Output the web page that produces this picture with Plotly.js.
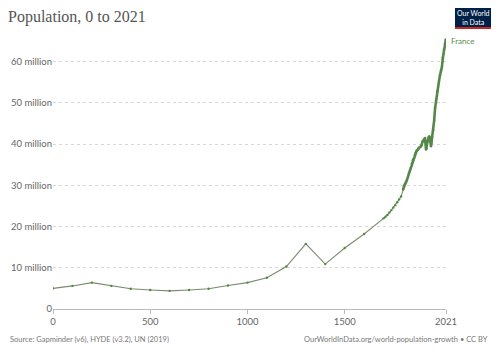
<!DOCTYPE html>
<html>
<head>
<meta charset="utf-8">
<script src="https://cdn.plot.ly/plotly-3.0.1.min.js"></script>
<style>html,body{margin:0;padding:0;background:#fff;}#chart{width:500px;height:353px;}</style>
</head>
<body>
<div id="chart"></div>
<script>
// Years and population (France)
const years = [0,100,200,300,400,500,600,700,800,900,1000,1100,1200,1300,1400,1500,1600,
  1700,1710,1720,1730,1740,1750,1760,1770,1780,1790,
  1800,1805,1810,1815,1820,1825,1830,1835,1840,1845,1850,1855,1860,1865,1870,1875,1880,1885,1890,1895,
  1900,1905,1910,1913,1915,1918,1920,1925,1930,1935,1940,1944,1946,1950,1955,1960,1965,1970,1975,1980,
  1985,1990,1995,2000,2005,2010,2015,2020,2021];
const population = [5.0,5.6,6.4,5.6,4.9,4.6,4.4,4.6,4.9,5.7,6.4,7.6,10.3,15.8,10.9,14.8,18.2,
  22.0,22.4,22.8,23.4,24.0,24.6,25.2,25.9,26.6,27.3,
  29.0,29.8,30.3,30.7,31.2,32.0,32.8,33.5,34.2,35.3,36.1,36.5,37.4,38.0,38.4,38.6,39.0,39.2,39.4,39.7,
  40.6,40.9,41.2,41.5,40.5,38.7,39.0,40.5,41.6,41.9,40.7,39.5,40.3,41.8,43.4,45.7,48.8,50.7,52.7,53.9,
  55.3,56.7,57.8,58.7,61.0,62.9,64.4,65.3,65.4].map(v => v * 1e6);
const xTicks = [0,500,1000,1500,2021];
const yTicks = [0,10e6,20e6,30e6,40e6,50e6,60e6];
const yTickText = ["0","10 million","20 million","30 million","40 million","50 million","60 million"];

const W = 500, H = 353;
const L = 53, R = 54, T = 37, B = 44;
const pw = W - L - R, ph = H - T - B;
const px = x => (x - L) / pw;
const py = y => (H - B - y) / ph;

// annual-resolution part (from 1800) is drawn denser in the original
const start = years.indexOf(1800);

const traces = [
  {x: years, y: population, type: 'scatter', mode: 'lines+markers',
   line: {color: '#7b8c6c', width: 1.1},
   marker: {color: '#4f8a3d', size: 2.4},
   hoverinfo: 'skip'},
  {x: years.slice(start), y: population.slice(start), type: 'scatter', mode: 'lines',
   line: {color: '#55874a', width: 2.6},
   hoverinfo: 'skip'}
];

const layout = {
  width: W, height: H,
  margin: {l: L, r: R, t: T, b: B},
  paper_bgcolor: '#fff', plot_bgcolor: '#fff',
  showlegend: false,
  font: {family: 'Lato, sans-serif', color: '#666'},
  title: {text: 'Population, 0 to 2021', x: 8 / W, xanchor: 'left', y: 1 - 16 / H, yanchor: 'middle',
          font: {family: 'Liberation Serif, serif', size: 16, color: '#555'}},
  xaxis: {range: [0, 2021], tickvals: xTicks, ticktext: xTicks.map(String),
          showline: true, linecolor: '#bbb', linewidth: 1, ticks: 'outside', ticklen: 4, tickcolor: '#bbb',
          showgrid: false, zeroline: false, tickfont: {size: 9.5, color: '#666'}, fixedrange: true},
  yaxis: {range: [0, 66e6], tickvals: yTicks, ticktext: yTickText,
          showgrid: true, gridcolor: '#d8d8d8', griddash: 'dot', gridwidth: 1,
          zeroline: false, showline: false, ticks: '', tickfont: {size: 9.5, color: '#666'}, fixedrange: true},
  shapes: [
    {type: 'rect', xref: 'paper', yref: 'paper', x0: px(455), x1: px(491), y0: py(29), y1: py(8),
     fillcolor: '#002147', line: {width: 0}},
    {type: 'rect', xref: 'paper', yref: 'paper', x0: px(455), x1: px(491), y0: py(29), y1: py(27),
     fillcolor: '#ce261e', line: {width: 0}}
  ],
  annotations: [
    {xref: 'paper', yref: 'paper', x: px(473), y: py(17.5), text: 'Our World<br>in Data', showarrow: false,
     xanchor: 'center', yanchor: 'middle', font: {family: 'Lato, sans-serif', size: 7, color: '#fff'}},
    {xref: 'x', yref: 'y', x: 2021, y: 65.0e6, text: 'France', showarrow: false, xanchor: 'left', xshift: 3,
     yanchor: 'middle', font: {size: 8, color: '#5b8c4a'}},
    {xref: 'paper', yref: 'paper', x: px(8), y: py(339), text: 'Source: Gapminder (v6), HYDE (v3.2), UN (2019)',
     showarrow: false, xanchor: 'left', yanchor: 'middle', font: {size: 7.5, color: '#777'}},
    {xref: 'paper', yref: 'paper', x: px(490), y: py(339), text: 'OurWorldInData.org/world-population-growth • CC BY',
     showarrow: false, xanchor: 'right', yanchor: 'middle', font: {size: 7.5, color: '#777'}}
  ]
};

Plotly.newPlot('chart', traces, layout, {staticPlot: true, displayModeBar: false});
</script>
</body>
</html>
